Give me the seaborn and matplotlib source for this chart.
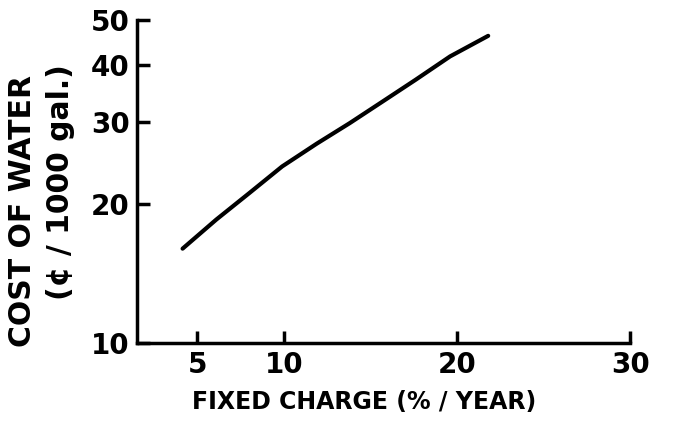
import matplotlib
matplotlib.use("Agg")
import matplotlib.pyplot as plt
import seaborn as sns
import pandas as pd

# data
fixed_charge = [4.15, 6.1, 8.0, 9.9, 11.9, 13.8, 15.7, 17.6, 19.6, 21.8]
water_cost = [16.0, 18.5, 21.1, 24.1, 27.0, 29.9, 33.3, 37.1, 41.7, 46.2]

x_ticks = [5, 10, 20, 30]
y_ticks = [10, 20, 30, 40, 50]

sns.set_style("ticks")
plt.rcParams["font.family"] = ["DejaVu Sans"]
plt.rcParams["text.color"] = "black"
plt.rcParams["axes.labelcolor"] = "black"

df = pd.DataFrame({"charge": fixed_charge, "cost": water_cost})

fig = plt.figure(figsize=(6.94, 4.25), dpi=100)
ax = fig.add_axes([0.197, 0.193, 0.711, 0.760])

sns.lineplot(data=df, x="charge", y="cost", color="black", linewidth=3, ax=ax)

ax.set_yscale("log")
ax.set_xlim(1.5, 30)
ax.set_ylim(10, 50)
ax.set_xticks(x_ticks)
ax.set_xticklabels([str(t) for t in x_ticks])
ax.set_yticks(y_ticks)
ax.set_yticklabels([str(t) for t in y_ticks])
ax.yaxis.set_minor_locator(matplotlib.ticker.NullLocator())

ax.tick_params(direction="in", length=9, width=2.5, labelsize=20,
               colors="black", pad=5)
ax.tick_params(axis="x", pad=6)
for t in ax.get_xticklabels() + ax.get_yticklabels():
    t.set_fontweight("bold")

for side in ["top", "right"]:
    ax.spines[side].set_visible(False)
for side in ["left", "bottom"]:
    ax.spines[side].set_linewidth(2.5)
    ax.spines[side].set_color("black")

ax.set_xlabel("FIXED CHARGE (% / YEAR)", fontsize=17, fontweight="bold",
              color="black")
ax.xaxis.set_label_coords(0.46, -0.145)
ax.set_ylabel("")

fig.text(0.032, 1 - 211 / 425, "COST OF WATER", rotation=90, ha="center",
         va="center", fontsize=21.5, fontweight="bold", color="black")
fig.text(0.087, 1 - 182 / 425, "(¢ / 1000 gal.)", rotation=90, ha="center",
         va="center", fontsize=21.5, fontweight="bold", color="black")

fig.savefig("out.png", dpi=100)
